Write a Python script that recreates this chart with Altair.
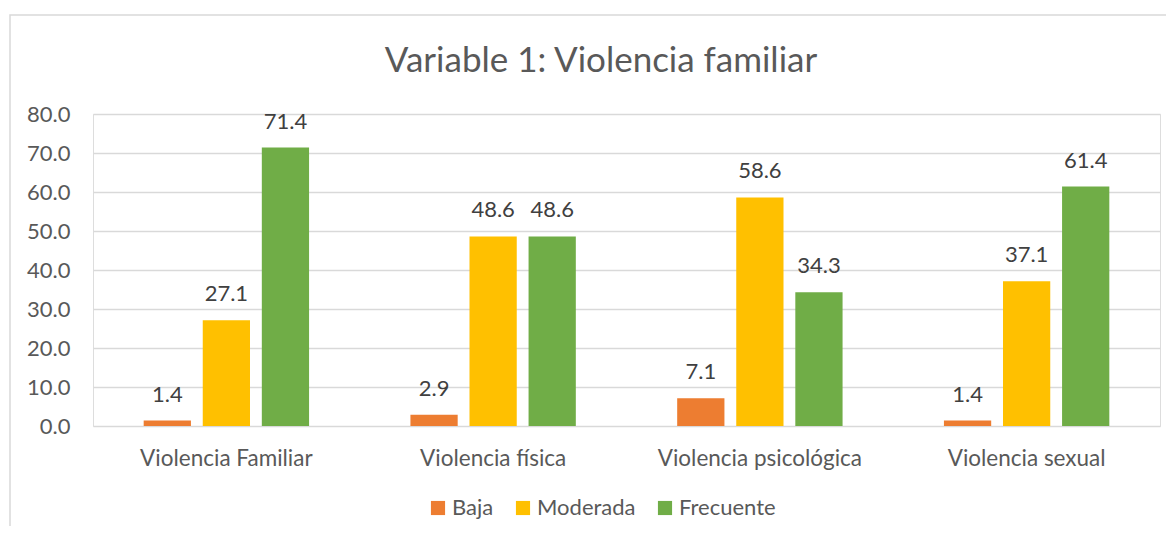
import altair as alt
import pandas as pd

categories = ["Violencia Familiar", "Violencia física", "Violencia psicológica", "Violencia sexual"]
series = ["Baja", "Moderada", "Frecuente"]
baja = [1.4, 2.9, 7.1, 1.4]
moderada = [27.1, 48.6, 58.6, 37.1]
frecuente = [71.4, 48.6, 34.3, 61.4]
colors = ["#ED7D31", "#FFC000", "#70AD47"]
title_text = "Variable 1: Violencia familiar"

rows = []
for i, c in enumerate(categories):
    for s, vals in zip(series, [baja, moderada, frecuente]):
        rows.append({"categoria": c, "nivel": s, "valor": vals[i]})
df = pd.DataFrame(rows)

FONT = "Lato"
FS = 22
W, H = 1067, 312

base = alt.Chart(df).encode(
    x=alt.X("categoria:N", sort=categories, title=None,
            scale=alt.Scale(paddingInner=0.38, paddingOuter=0.19),
            axis=alt.Axis(labelAngle=0, labelFont=FONT, labelFontSize=22.5, labelColor="#595959",
                          labelPadding=21, ticks=False, domain=False, labelLimit=400)),
    xOffset=alt.XOffset("nivel:N", sort=series, scale=alt.Scale(paddingInner=0.2, paddingOuter=0)),
    y=alt.Y("valor:Q", title=None,
            scale=alt.Scale(domain=[0, 80], nice=False),
            axis=alt.Axis(values=[0, 10, 20, 30, 40, 50, 60, 70, 80], format=".1f",
                          labelFont=FONT, labelFontSize=FS, labelColor="#595959",
                          labelPadding=23, ticks=False, domain=False,
                          gridColor="#D9D9D9", gridWidth=1.3)),
)

bars = base.mark_bar().encode(
    color=alt.Color("nivel:N", sort=series,
                    scale=alt.Scale(domain=series, range=colors),
                    legend=alt.Legend(title=None, orient="none", direction="horizontal",
                                      legendX=334, legendY=383,
                                      symbolType="square", symbolSize=200,
                                      symbolStrokeWidth=0, symbolOpacity=1,
                                      labelFont=FONT, labelFontSize=22, labelColor="#595959",
                                      labelOffset=3, columnPadding=18))
)

labels = base.mark_text(baseline="bottom", dy=-14, font=FONT, fontSize=22, color="#404040").encode(
    text=alt.Text("valor:Q", format=".1f")
)

border = alt.Chart(pd.DataFrame({"a": [0]})).mark_rect(
    fill=None, stroke="#D9D9D9", strokeWidth=1.5
).encode(x=alt.value(-83), y=alt.value(-99), x2=alt.value(1100), y2=alt.value(440))

title = alt.Chart(pd.DataFrame({"t": [title_text]})).mark_text(
    font=FONT, fontSize=35, color="#595959", baseline="alphabetic", align="center"
).encode(text="t:N", x=alt.value(508), y=alt.value(-42))

chart = alt.layer(border, bars, labels, title).properties(
    width=W, height=H,
    autosize=alt.AutoSizeParams(type="none"),
    padding={"left": 85, "top": 106, "right": 6, "bottom": 100},
).configure_view(stroke=None).configure(background="white")

chart.save("out.html", embed_options={"renderer": "svg", "actions": False})
